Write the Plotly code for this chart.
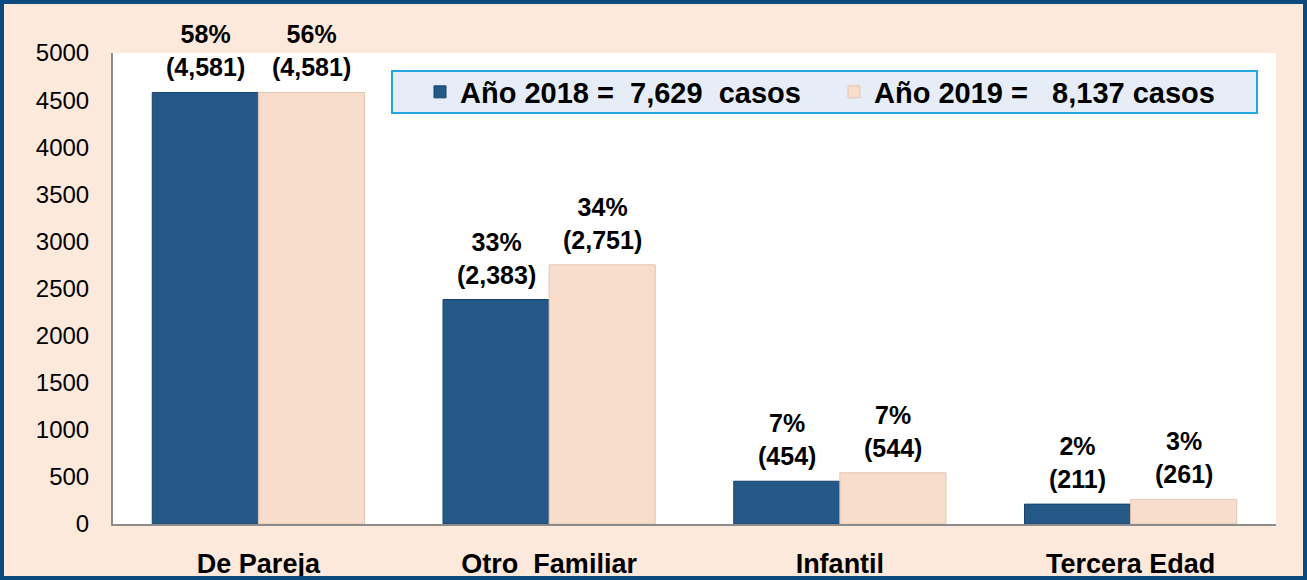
import plotly.graph_objects as go

categories = ['De Pareja', 'Otro\u00a0 Familiar', 'Infantil', 'Tercera Edad']
casos_2018 = [4581, 2383, 454, 211]
casos_2019 = [4581, 2751, 544, 261]
pct_2018 = [58, 33, 7, 2]
pct_2019 = [56, 34, 7, 3]
legend_2018 = 'Año 2018 =\u00a0 7,629\u00a0 casos'
legend_2019 = 'Año 2019 =\u00a0\u00a0 8,137 casos'
y_ticks = list(range(0, 5001, 500))

W, H = 1307, 580
ML, MR, MT, MB = 113, 31, 53, 56
PW, PH = W - ML - MR, H - MT - MB
BAR_PX = 53  # half a bar, for the value labels


def px(x, y):
    # pixel position in the page -> paper coordinates
    return (x - ML) / PW, (H - MB - y) / PH


fig = go.Figure()

fig.add_trace(
    go.Bar(
        x=categories,
        y=casos_2018,
        name=legend_2018,
        marker=dict(color='#245887', line=dict(color='#1a426a', width=1)),
    )
)

fig.add_trace(
    go.Bar(
        x=categories,
        y=casos_2019,
        name=legend_2019,
        marker=dict(color='#f8dccc', line=dict(color='#e3c4b2', width=1)),
    )
)

# value labels over the bars
for values, pcts, shift in [(casos_2018, pct_2018, -BAR_PX), (casos_2019, pct_2019, BAR_PX)]:
    for cat, v, p in zip(categories, values, pcts):
        fig.add_annotation(
            x=cat, y=v,
            text=f'<b>{p}%<br>({v:,})</b>',
            showarrow=False,
            xshift=shift, yshift=9,
            yanchor='bottom',
            font=dict(size=25, color='black'),
        )

# legend box
bx0, by0 = px(392, 113)
bx1, by1 = px(1257, 71)
fig.add_shape(
    type='rect', xref='paper', yref='paper',
    x0=bx0, y0=by0, x1=bx1, y1=by1,
    fillcolor='#e6edf6', line=dict(color='#22a7e0', width=2),
    layer='below',
)

# outer frame
fx0, fy0 = px(2, 578)
fx1, fy1 = px(1305, 2)
fig.add_shape(
    type='rect', xref='paper', yref='paper',
    x0=fx0, y0=fy0, x1=fx1, y1=fy1,
    line=dict(color='#0c4a7e', width=4),
    layer='above',
)

lx, ly = px(420, 92)

fig.update_layout(
    width=W,
    height=H,
    margin=dict(l=ML, r=MR, t=MT, b=MB, pad=0),
    paper_bgcolor='#fde9db',
    plot_bgcolor='white',
    barmode='group',
    bargap=0.27,
    bargroupgap=0,
    font=dict(family='Liberation Sans, Arial', size=22, color='black'),
    legend=dict(
        orientation='h',
        x=lx, y=ly,
        xanchor='left', yanchor='middle',
        bgcolor='rgba(0,0,0,0)',
        font=dict(size=29, weight='bold'),
        entrywidth=369,
        entrywidthmode='pixels',
        itemwidth=30,
    ),
    xaxis=dict(
        showgrid=False,
        showline=True,
        linecolor='#8c8c8c',
        linewidth=2,
        ticks='',
        tickfont=dict(size=27, weight='bold'),
        ticklabelstandoff=15,
        automargin=False,
    ),
    yaxis=dict(
        range=[0, 5000],
        tickvals=y_ticks,
        showgrid=False,
        zeroline=False,
        showline=True,
        linecolor='#8c8c8c',
        linewidth=2,
        ticks='',
        tickfont=dict(size=24),
        ticklabelstandoff=17,
        automargin=False,
    ),
)

fig.write_html(
    'out.html',
    config={'displayModeBar': False},
    post_script=(
        "document.body.style.margin='0';"
        "var d=document.getElementsByClassName('plotly-graph-div')[0];"
        "d.style.position='fixed';d.style.top='0';d.style.left='0';"
    ),
)
